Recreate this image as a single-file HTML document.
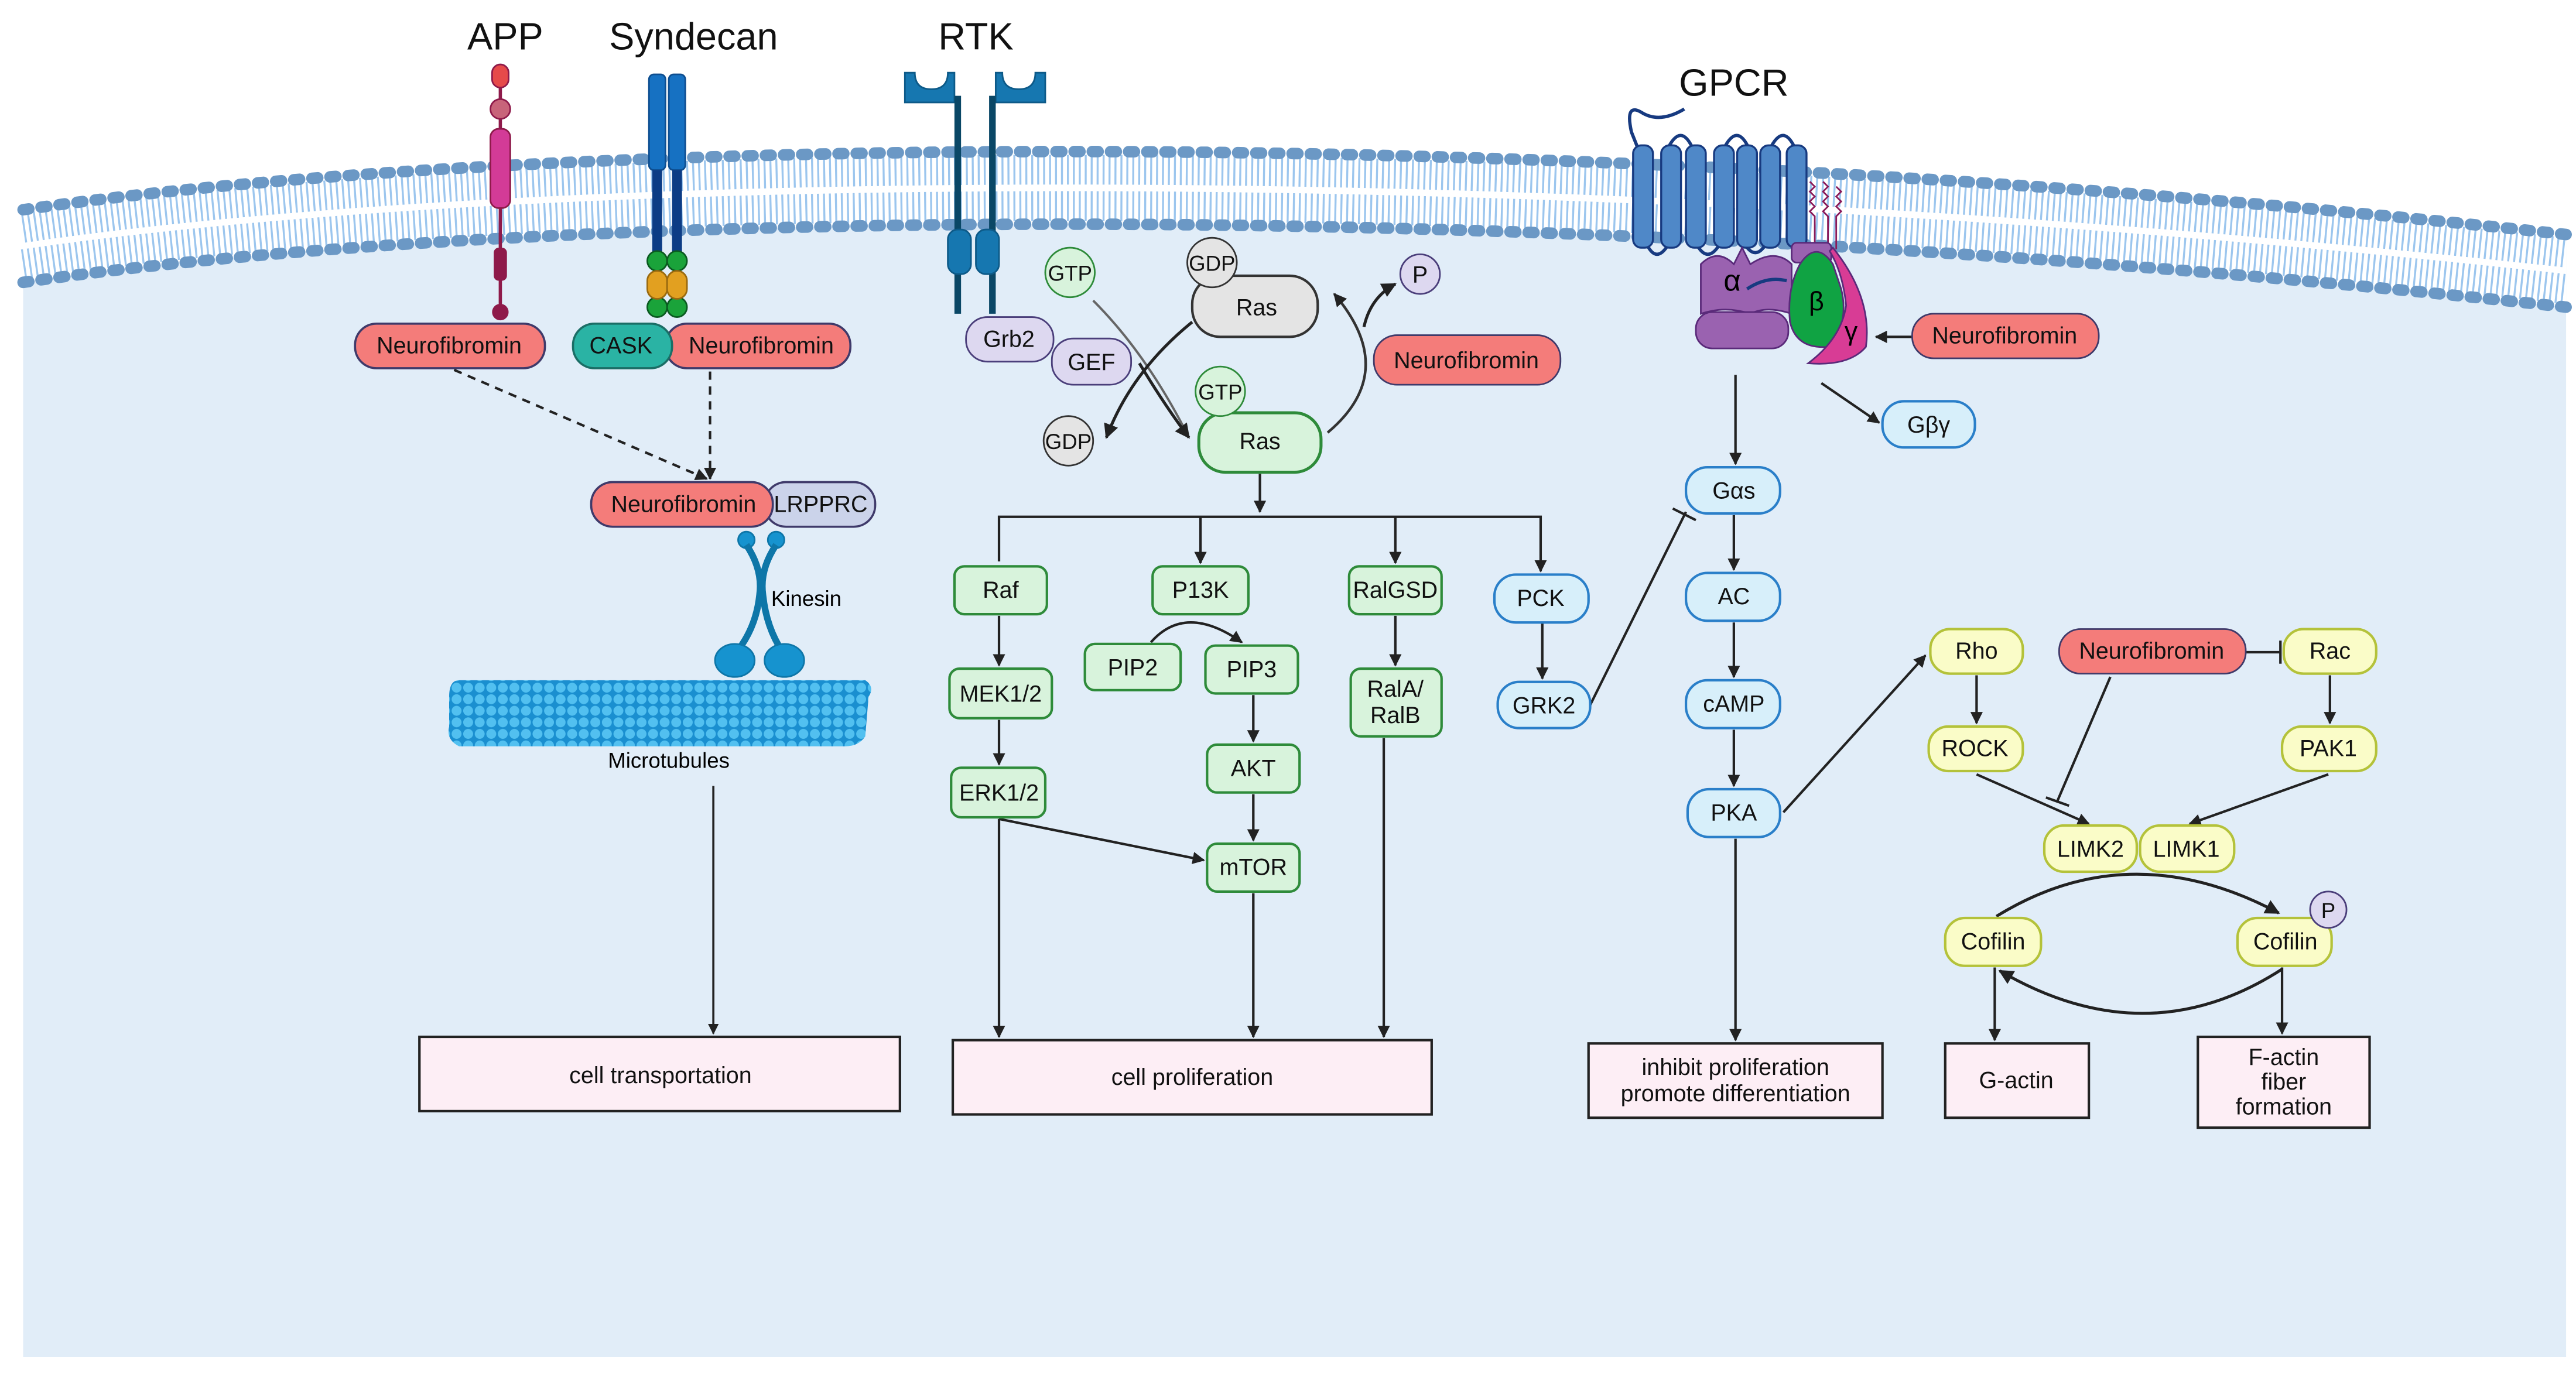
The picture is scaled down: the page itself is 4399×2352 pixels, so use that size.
<!DOCTYPE html>
<html><head><meta charset="utf-8"><style>
html,body{margin:0;padding:0;background:#fff;}
svg{display:block;}
text{font-family:"Liberation Sans",sans-serif;}
</style></head><body>
<svg width="4399" height="2352" viewBox="0 0 1560 834" xmlns="http://www.w3.org/2000/svg">
<defs>
<marker id="ah" viewBox="0 0 10 10" refX="9" refY="5" markerWidth="5" markerHeight="5" orient="auto"><path d="M0,0L10,5L0,10z" fill="#222"/></marker>
<pattern id="mt" width="7" height="7" patternUnits="userSpaceOnUse"><rect width="7" height="7" fill="#1a8fd0"/><circle cx="3.5" cy="3.5" r="3" fill="#52c0f0"/></pattern>
</defs>
<rect width="1560" height="834" fill="#fff"/>
<path d="M14,127 C300,85 900,70 1554,142 L1554,822 L14,822z" fill="#e1edf8"/>
<path d="M14,127 C300,85 900,70 1554,142 L1554,186 C900,114 300,129 14,171z" fill="#fff"/>
<path d="M14,138 C300,96 900,81 1554,153" fill="none" stroke="#9cc6ee" stroke-width="18" stroke-dasharray="1.2 2.4"/>
<path d="M14,160 C300,118 900,103 1554,175" fill="none" stroke="#9cc6ee" stroke-width="18" stroke-dasharray="1.2 2.4"/>
<path d="M14,127 C300,85 900,70 1554,142" fill="none" stroke="#6b98c5" stroke-width="7" stroke-dasharray="3.5 7.5" stroke-linecap="round"/>
<path d="M14,171 C300,129 900,114 1554,186" fill="none" stroke="#6b98c5" stroke-width="7" stroke-dasharray="3.5 7.5" stroke-linecap="round"/>

<g font-size="23" fill="#111" text-anchor="middle">
<text x="306" y="30">APP</text><text x="420" y="30">Syndecan</text><text x="591" y="30">RTK</text><text x="1050" y="58">GPCR</text>
</g>

<line x1="303" y1="45" x2="303" y2="188" stroke="#8e1a4a" stroke-width="2"/>
<rect x="298" y="39" width="10" height="14" rx="5" fill="#e64a4a" stroke="#8e1a4a"/>
<circle cx="303" cy="66" r="6" fill="#c8647a" stroke="#8e1a4a"/>
<rect x="297" y="78" width="12" height="48" rx="5" fill="#d33b97" stroke="#8e1a4a"/>
<rect x="299" y="150" width="8" height="20" rx="3" fill="#8e1a4a"/>
<circle cx="303" cy="189" r="5" fill="#8e1a4a"/>
<rect x="393" y="45" width="10" height="58" rx="3" fill="#1671c2" stroke="#0e4e90"/>
<rect x="405" y="45" width="10" height="58" rx="3" fill="#1671c2" stroke="#0e4e90"/>
<rect x="395" y="103" width="6" height="50" fill="#0c3c85"/><rect x="407" y="103" width="6" height="50" fill="#0c3c85"/>
<g stroke="#0a5a20"><circle cx="398" cy="158" r="6" fill="#1aa33a"/><circle cx="410" cy="158" r="6" fill="#1aa33a"/>
<circle cx="398" cy="186" r="6" fill="#1aa33a"/><circle cx="410" cy="186" r="6" fill="#1aa33a"/></g>
<rect x="392" y="164" width="12" height="17" rx="6" fill="#e2a020" stroke="#9a6a10"/><rect x="404" y="164" width="12" height="17" rx="6" fill="#e2a020" stroke="#9a6a10"/>
<g fill="#1677b0" stroke="#0d5a88">
<path d="M548,44 h6 q0,10 10,10 q10,0 10,-10 h4 v18 h-30z"/>
<path d="M603,44 h4 q0,10 10,10 q10,0 10,-10 h6 v18 h-30z"/>
</g>
<line x1="580" y1="58" x2="580" y2="190" stroke="#0a4766" stroke-width="4"/>
<line x1="601" y1="58" x2="601" y2="190" stroke="#0a4766" stroke-width="4"/>
<rect x="574" y="139" width="14" height="27" rx="6" fill="#1677b0" stroke="#0d5a88"/>
<rect x="591" y="139" width="14" height="27" rx="6" fill="#1677b0" stroke="#0d5a88"/>

<g font-size="14" text-anchor="middle" fill="#111">
<rect x="215" y="196" width="115" height="27" rx="13" fill="#f47c7a" stroke="#3f3a6a" stroke-width="1.3"/><text x="272" y="214">Neurofibromin</text>
<rect x="403" y="196" width="112" height="27" rx="13" fill="#f47c7a" stroke="#3f3a6a" stroke-width="1.3"/><text x="461" y="214">Neurofibromin</text>
<rect x="347" y="196" width="60" height="27" rx="13" fill="#2ab3a4" stroke="#1b6e66" stroke-width="1.3"/><text x="376" y="214">CASK</text>
<rect x="463" y="292" width="67" height="27" rx="13" fill="#cbd3ea" stroke="#3f3a6a" stroke-width="1.3"/><text x="497" y="310">LRPPRC</text>
<rect x="358" y="292" width="110" height="27" rx="13" fill="#f47c7a" stroke="#3f3a6a" stroke-width="1.3"/><text x="414" y="310">Neurofibromin</text>
</g>
<line x1="275" y1="224" x2="428" y2="290" stroke="#222" stroke-width="1.5" stroke-dasharray="5 4" marker-end="url(#ah)"/>
<line x1="430" y1="225" x2="430" y2="290" stroke="#222" stroke-width="1.5" stroke-dasharray="5 4" marker-end="url(#ah)"/>
<g fill="#1693cf" stroke="#0e76a8">
<circle cx="452" cy="327" r="5"/><circle cx="470" cy="327" r="5"/>
<path d="M452,330 Q462,345 460,360 Q458,380 446,395" fill="none" stroke-width="4"/>
<path d="M470,330 Q460,345 462,360 Q464,380 474,395" fill="none" stroke-width="4"/>
<ellipse cx="445" cy="400" rx="12" ry="10"/><ellipse cx="475" cy="400" rx="12" ry="10"/>
</g>
<text x="467" y="367" font-size="13">Kinesin</text>
<path d="M278,412 L524,412 Q530,416 526,422 L524,446 Q520,452 512,452 L278,452 Q270,448 272,440 L272,422 Q272,412 278,412z" fill="url(#mt)"/>
<text x="405" y="465" font-size="13" text-anchor="middle">Microtubules</text>
<line x1="432" y1="476" x2="432" y2="626" stroke="#222" stroke-width="1.3" marker-end="url(#ah)"/>

<g fill="#fdeef5" stroke="#222" stroke-width="1.5">
<rect x="254" y="628" width="291" height="45"/><rect x="577" y="630" width="290" height="45"/>
<rect x="962" y="632" width="178" height="45"/><rect x="1178" y="632" width="87" height="45"/><rect x="1331" y="628" width="104" height="55"/>
</g>
<g font-size="14" text-anchor="middle" fill="#111">
<text x="400" y="656">cell transportation</text><text x="722" y="657">cell proliferation</text>
<text x="1051" y="651">inhibit proliferation</text><text x="1051" y="667">promote differentiation</text>
<text x="1221" y="659">G-actin</text>
<text x="1383" y="645">F-actin</text><text x="1383" y="660">fiber</text><text x="1383" y="675">formation</text>
</g>

<path d="M662,182 Q695,215 720,265" fill="none" stroke="#666" stroke-width="1.4"/>
<path d="M690,220 Q705,245 720,265" fill="none" stroke="#222" stroke-width="1.8" marker-end="url(#ah)"/>
<path d="M722,195 Q685,225 670,265" fill="none" stroke="#222" stroke-width="1.8" marker-end="url(#ah)"/>
<path d="M804,262 Q848,225 808,178" fill="none" stroke="#333" stroke-width="1.6" marker-end="url(#ah)"/>
<path d="M826,198 Q830,180 845,172" fill="none" stroke="#222" stroke-width="1.8" marker-end="url(#ah)"/>
<g font-size="14" text-anchor="middle" fill="#111">
<rect x="585" y="192" width="53" height="27" rx="13" fill="#ddd8f0" stroke="#4a3e7a"/><text x="611" y="210">Grb2</text>
<rect x="637" y="205" width="48" height="28" rx="13" fill="#ddd8f0" stroke="#4a3e7a"/><text x="661" y="224">GEF</text>
<rect x="722" y="167" width="76" height="37" rx="17" fill="#e4e4e4" stroke="#333" stroke-width="1.5"/><text x="761" y="191">Ras</text>
<circle cx="734" cy="159" r="15" fill="#e4e4e4" stroke="#333"/><text x="734" y="164" font-size="13">GDP</text>
<circle cx="648" cy="165" r="15" fill="#d8f3dc" stroke="#2e8b3a"/><text x="648" y="170" font-size="13">GTP</text>
<circle cx="860" cy="166" r="12" fill="#ddd8f0" stroke="#4a3e7a"/><text x="860" y="171">P</text>
<rect x="832" y="203" width="113" height="30" rx="14" fill="#f47c7a" stroke="#3f3a6a"/><text x="888" y="223">Neurofibromin</text>
<circle cx="647" cy="267" r="15" fill="#e4e4e4" stroke="#333"/><text x="647" y="272" font-size="13">GDP</text>
<rect x="726" y="250" width="74" height="36" rx="16" fill="#d8f3dc" stroke="#2e8b3a" stroke-width="1.8"/><text x="763" y="272">Ras</text>
<circle cx="739" cy="237" r="15" fill="#d8f3dc" stroke="#2e8b3a"/><text x="739" y="242" font-size="13">GTP</text>
</g>
<g stroke="#222" stroke-width="1.5" fill="none">
<line x1="763" y1="287" x2="763" y2="310" marker-end="url(#ah)"/>
<polyline points="605,340 605,313 933,313 933,346" marker-end="url(#ah)"/>
<line x1="727" y1="313" x2="727" y2="341" marker-end="url(#ah)"/>
<line x1="845" y1="313" x2="845" y2="341" marker-end="url(#ah)"/>
<line x1="605" y1="373" x2="605" y2="403" marker-end="url(#ah)"/>
<line x1="605" y1="436" x2="605" y2="463" marker-end="url(#ah)"/>
<line x1="605" y1="496" x2="729" y2="521" marker-end="url(#ah)"/>
<line x1="605" y1="496" x2="605" y2="628" marker-end="url(#ah)"/>
<path d="M697,389 Q718,365 752,389" marker-end="url(#ah)"/>
<line x1="759" y1="421" x2="759" y2="449" marker-end="url(#ah)"/>
<line x1="759" y1="481" x2="759" y2="509" marker-end="url(#ah)"/>
<line x1="759" y1="541" x2="759" y2="628" marker-end="url(#ah)"/>
<line x1="845" y1="373" x2="845" y2="403" marker-end="url(#ah)"/>
<line x1="838" y1="447" x2="838" y2="628" marker-end="url(#ah)"/>
<line x1="934" y1="377" x2="934" y2="411" marker-end="url(#ah)"/>
<line x1="963" y1="427" x2="1021" y2="310"/>
<line x1="1013" y1="308" x2="1027" y2="315"/>
</g>
<g font-size="14" text-anchor="middle" fill="#111">
<g fill="#d8f3dc" stroke="#2e8b3a" stroke-width="1.5">
<rect x="578" y="343" width="56" height="29" rx="6"/><rect x="698" y="343" width="58" height="29" rx="6"/><rect x="817" y="343" width="56" height="29" rx="6"/>
<rect x="575" y="405" width="62" height="30" rx="6"/><rect x="657" y="390" width="58" height="28" rx="6"/><rect x="730" y="391" width="56" height="29" rx="6"/>
<rect x="818" y="405" width="55" height="41" rx="6"/><rect x="576" y="465" width="57" height="30" rx="6"/>
<rect x="731" y="451" width="56" height="29" rx="6"/><rect x="731" y="511" width="56" height="29" rx="6"/>
</g>
<text x="606" y="362">Raf</text><text x="727" y="362">P13K</text><text x="845" y="362">RalGSD</text>
<text x="606" y="425">MEK1/2</text><text x="686" y="409">PIP2</text><text x="758" y="410">PIP3</text>
<text x="845" y="422">RalA/</text><text x="845" y="438">RalB</text><text x="605" y="485">ERK1/2</text>
<text x="759" y="470">AKT</text><text x="759" y="530">mTOR</text>
<g fill="#d7effa" stroke="#2a7fc9" stroke-width="1.5">
<rect x="905" y="348" width="57" height="29" rx="13"/><rect x="907" y="413" width="56" height="28" rx="13"/>
<rect x="1021" y="283" width="57" height="28" rx="13"/><rect x="1021" y="347" width="57" height="29" rx="13"/>
<rect x="1021" y="412" width="57" height="29" rx="13"/><rect x="1022" y="478" width="56" height="29" rx="13"/>
<rect x="1140" y="243" width="56" height="28" rx="13"/>
</g>
<text x="933" y="367">PCK</text><text x="935" y="432">GRK2</text>
<text x="1050" y="302">Gαs</text><text x="1050" y="366">AC</text><text x="1050" y="431">cAMP</text><text x="1050" y="497">PKA</text><text x="1168" y="262">Gβγ</text>
</g>

<path d="M1020,66 Q1005,75 994,68 Q984,62 988,80 Q992,90 994,95" fill="none" stroke="#173a80" stroke-width="2"/>
<g fill="none" stroke="#173a80" stroke-width="2">
<path d="M1009,92 q9,-20 17,0"/><path d="M1043,92 q9,-20 17,0"/><path d="M1071,92 q9,-20 17,0"/>
<path d="M996,145 q7,18 16,0"/><path d="M1026,145 q8,18 17,0"/><path d="M1055,145 q8,16 16,0"/>
</g>
<g fill="#4f88c8" stroke="#173a80" stroke-width="1.2">
<rect x="989" y="88" width="12" height="62" rx="5"/><rect x="1006" y="88" width="12" height="62" rx="5"/><rect x="1021" y="88" width="12" height="62" rx="5"/>
<rect x="1038" y="88" width="12" height="62" rx="5"/><rect x="1052" y="88" width="12" height="62" rx="5"/><rect x="1066" y="88" width="12" height="62" rx="5"/><rect x="1082" y="88" width="12" height="62" rx="5"/>
</g>
<path d="M1096,110 l3,3 l-3,3 l3,3 l-3,3 l3,3 l-3,3 l3,3 v20 M1104,110 l3,3 l-3,3 l3,3 l-3,3 l3,3 l-3,3 l3,3 v20 M1112,113 l3,3 l-3,3 l3,3 l-3,3 l3,3 l-3,3 v20" fill="none" stroke="#8a1a5a" stroke-width="1"/>
<g stroke="#5a2a7a" stroke-width="1">
<path d="M1030,160 Q1040,150 1050,160 L1055,150 L1060,160 Q1075,150 1085,160 L1085,190 Q1070,185 1060,190 Q1045,185 1030,190z" fill="#9a62b0"/>
<rect x="1027" y="189" width="56" height="22" rx="10" fill="#9a62b0"/>
<rect x="1085" y="147" width="24" height="12" rx="3" fill="#9a62b0"/>
<path d="M1110,160 Q1100,145 1090,160 Q1082,175 1084,195 Q1088,212 1108,210 Q1120,195 1115,175z" fill="#10a343"/>
<path d="M1110,150 Q1134,180 1130,210 Q1120,222 1095,220 Q1115,205 1118,185 Q1116,165 1108,152z" fill="#d83c95"/>
</g>
<path d="M1058,175 Q1070,167 1082,170" fill="none" stroke="#173a80" stroke-width="2"/>
<text x="1049" y="176" font-size="18" text-anchor="middle">α</text>
<text x="1100" y="188" font-size="16" text-anchor="middle">β</text>
<text x="1121" y="206" font-size="16" text-anchor="middle">γ</text>
<g stroke="#222" stroke-width="1.5" fill="none">
<line x1="1158" y1="204" x2="1136" y2="204" marker-end="url(#ah)"/>
<line x1="1051" y1="227" x2="1051" y2="281" marker-end="url(#ah)"/>
<line x1="1103" y1="232" x2="1138" y2="256" marker-end="url(#ah)"/>
<line x1="1050" y1="312" x2="1050" y2="345" marker-end="url(#ah)"/>
<line x1="1050" y1="377" x2="1050" y2="410" marker-end="url(#ah)"/>
<line x1="1050" y1="442" x2="1050" y2="476" marker-end="url(#ah)"/>
<line x1="1051" y1="508" x2="1051" y2="630" marker-end="url(#ah)"/>
<line x1="1080" y1="492" x2="1166" y2="397" marker-end="url(#ah)"/>
<line x1="1197" y1="409" x2="1197" y2="438" marker-end="url(#ah)"/>
<line x1="1411" y1="409" x2="1411" y2="438" marker-end="url(#ah)"/>
<line x1="1360" y1="395" x2="1381" y2="395"/><line x1="1381" y1="388" x2="1381" y2="402"/>
<line x1="1278" y1="410" x2="1246" y2="485"/><line x1="1239" y1="483" x2="1253" y2="488"/>
<line x1="1197" y1="469" x2="1265" y2="499" marker-end="url(#ah)"/>
<line x1="1410" y1="469" x2="1326" y2="499" marker-end="url(#ah)"/>
<path d="M1209,555 Q1290,505 1380,553" stroke-width="1.8" marker-end="url(#ah)"/>
<path d="M1382,587 Q1300,640 1211,588" stroke-width="1.8" marker-end="url(#ah)"/>
<line x1="1208" y1="586" x2="1208" y2="630" marker-end="url(#ah)"/>
<line x1="1382" y1="586" x2="1382" y2="626" marker-end="url(#ah)"/>
</g>
<g font-size="14" text-anchor="middle" fill="#111">
<rect x="1158" y="190" width="113" height="27" rx="13" fill="#f47c7a" stroke="#3f3a6a"/><text x="1214" y="208">Neurofibromin</text>
<rect x="1247" y="381" width="113" height="27" rx="13" fill="#f47c7a" stroke="#3f3a6a"/><text x="1303" y="399">Neurofibromin</text>
<g fill="#fafcc8" stroke="#b4c23a" stroke-width="1.5">
<rect x="1169" y="381" width="56" height="27" rx="12"/><rect x="1383" y="381" width="56" height="27" rx="12"/>
<rect x="1168" y="440" width="57" height="27" rx="12"/><rect x="1382" y="440" width="57" height="27" rx="12"/>
<rect x="1238" y="500" width="56" height="28" rx="12"/><rect x="1296" y="500" width="57" height="28" rx="12"/>
<rect x="1178" y="556" width="58" height="29" rx="12"/><rect x="1355" y="556" width="57" height="29" rx="12"/>
</g>
<text x="1197" y="399">Rho</text><text x="1411" y="399">Rac</text><text x="1196" y="458">ROCK</text><text x="1410" y="458">PAK1</text>
<text x="1266" y="519">LIMK2</text><text x="1324" y="519">LIMK1</text><text x="1207" y="575">Cofilin</text><text x="1384" y="575">Cofilin</text>
<circle cx="1410" cy="551" r="11" fill="#ddd8f0" stroke="#4a3e7a"/><text x="1410" y="556" font-size="13">P</text>
</g>
</svg>
</body></html>
